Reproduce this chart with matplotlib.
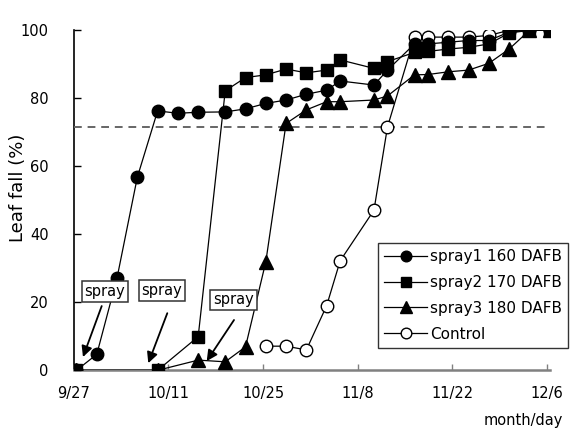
import pandas as pd
import matplotlib
matplotlib.use("Agg")
import matplotlib.pyplot as plt

# sampling dates (month/day) and leaf fall (%) for each treatment
spray1_dates = ["9/27", "9/30", "10/3", "10/6", "10/9", "10/12", "10/15", "10/19",
                "10/22", "10/25", "10/28", "10/31", "11/3", "11/5", "11/10", "11/12",
                "11/16", "11/18", "11/21", "11/24", "11/27", "11/30", "12/3", "12/6"]
spray1_values = [0, 4.7, 27.2, 56.8, 76.3, 75.6, 75.9, 76.0, 76.9, 78.5, 79.5, 81.2,
                 82.4, 85.1, 83.9, 88.3, 96.0, 96.0, 96.5, 97.0, 97.0, 99.5, 100, 100]

spray2_dates = ["9/27", "10/9", "10/15", "10/19", "10/22", "10/25", "10/28", "10/31",
                "11/3", "11/5", "11/10", "11/12", "11/16", "11/18", "11/21", "11/24",
                "11/27", "11/30", "12/3", "12/6"]
spray2_values = [0, 0, 9.9, 82.2, 86.1, 86.9, 88.6, 87.5, 88.3, 91.3, 88.8, 90.8,
                 93.5, 93.8, 94.5, 95.0, 96.0, 99.2, 100, 100]

spray3_dates = ["9/27", "10/9", "10/15", "10/19", "10/22", "10/25", "10/28", "10/31",
                "11/3", "11/5", "11/10", "11/12", "11/16", "11/18", "11/21", "11/24",
                "11/27", "11/30", "12/3", "12/6"]
spray3_values = [0, 0, 3.0, 2.5, 6.9, 31.9, 72.6, 76.6, 79.0, 79.0, 79.5, 80.7,
                 86.9, 87.0, 87.8, 88.3, 90.3, 94.5, 100, 100]

control_dates = ["10/25", "10/28", "10/31", "11/3", "11/5", "11/10", "11/12", "11/16",
                 "11/18", "11/21", "11/24", "11/27", "11/30", "12/3", "12/6"]
control_values = [7.1, 7.1, 6.0, 19.0, 32.2, 47.1, 71.6, 98.0, 98.0, 98.0, 98.0, 98.5,
                  100, 100, 100]

tick_labels = ["9/27", "10/11", "10/25", "11/8", "11/22", "12/6"]
y_ticks = [0, 20, 40, 60, 80, 100]
threshold = 71.6

START = pd.to_datetime("9/27", format="%m/%d")


def to_days(dates, shift=0.0):
    d = pd.to_datetime(dates, format="%m/%d")
    return [(x - START).days + shift for x in d]


def main():
    plt.rcParams["font.family"] = ["DejaVu Sans"]
    fig = plt.figure(figsize=(5.76, 4.30), dpi=100)
    ax = fig.add_axes([0.1281, 0.1388, 0.8275, 0.7907])

    # points sit in the middle of their day slot, like the original chart
    shift = 0.4
    line_kw = dict(color="black", lw=0.9, markeredgecolor="black")

    ax.plot(to_days(control_dates, shift), control_values, marker="o", ms=9,
            markerfacecolor="white", markeredgewidth=1.0, label="Control",
            zorder=3, **line_kw)
    ax.plot(to_days(spray1_dates, shift), spray1_values, marker="o", ms=9,
            markerfacecolor="black", label="spray1 160 DAFB", zorder=4, **line_kw)
    ax.plot(to_days(spray3_dates, shift), spray3_values, marker="^", ms=9.5,
            markerfacecolor="black", label="spray3 180 DAFB", zorder=5, **line_kw)
    ax.plot(to_days(spray2_dates, shift), spray2_values, marker="s", ms=8.5,
            markerfacecolor="black", label="spray2 170 DAFB", zorder=6, **line_kw)

    ax.axhline(threshold, color="#666666", lw=1.4, ls=(0, (4, 3)), zorder=2)

    # spray timing annotations
    notes = [((4.61, 23.3), (4.13, 18.9), (1.36, 3.9)),
             ((13.05, 23.5), (13.83, 16.8), (11.02, 2.1)),
             ((23.65, 20.7), (23.7, 14.8), (19.66, 2.7))]
    for box_xy, tail, tip in notes:
        ax.text(box_xy[0], box_xy[1], "spray", ha="center", va="center",
                fontsize=10.5, zorder=8,
                bbox=dict(boxstyle="square,pad=0.2", fc="white", ec="#333333", lw=1.1))
        ax.annotate("", xy=tip, xytext=tail, zorder=8,
                    arrowprops=dict(arrowstyle="-|>", color="black", lw=1.3,
                                    mutation_scale=16, shrinkA=0, shrinkB=0))

    ax.set_xlim(0, 70.5)
    ax.set_ylim(0, 100)
    ax.set_xticks(to_days(tick_labels))
    ax.set_xticklabels(tick_labels, fontsize=10.5)
    ax.set_yticks(y_ticks)
    ax.set_yticklabels([str(v) for v in y_ticks], fontsize=10.5)

    for side in ["top", "right"]:
        ax.spines[side].set_visible(False)
    ax.spines["left"].set_color("black")
    ax.spines["left"].set_linewidth(1.2)
    ax.spines["bottom"].set_color("#808080")
    ax.spines["bottom"].set_linewidth(1.8)
    ax.spines["left"].set_zorder(1)
    ax.spines["bottom"].set_zorder(1)
    ax.tick_params(axis="y", direction="in", length=5, width=1, pad=18, colors="black")
    ax.tick_params(axis="x", direction="in", length=4, width=1, pad=11,
                   color="#808080", labelcolor="black")

    fig.text(0.031, 0.563, "Leaf fall (%)", rotation=90, ha="center", va="center",
             fontsize=13)
    fig.text(0.977, 0.023, "month/day", ha="right", va="center", fontsize=10.5)

    handles, labels = ax.get_legend_handles_labels()
    order = [1, 3, 2, 0]
    leg = ax.legend([handles[i] for i in order], [labels[i] for i in order],
                    loc="upper left", bbox_to_anchor=(0.639, 0.3735),
                    borderaxespad=0, fancybox=False, fontsize=11,
                    handlelength=2.8, handletextpad=0.2, borderpad=0.4,
                    labelspacing=0.7, markerscale=0.85)
    leg.get_frame().set_edgecolor("black")
    leg.get_frame().set_linewidth(1.0)
    leg.set_zorder(9)

    output_path = "out.png"
    fig.savefig(output_path, dpi=100)
    plt.close(fig)


if __name__ == "__main__":
    main()
